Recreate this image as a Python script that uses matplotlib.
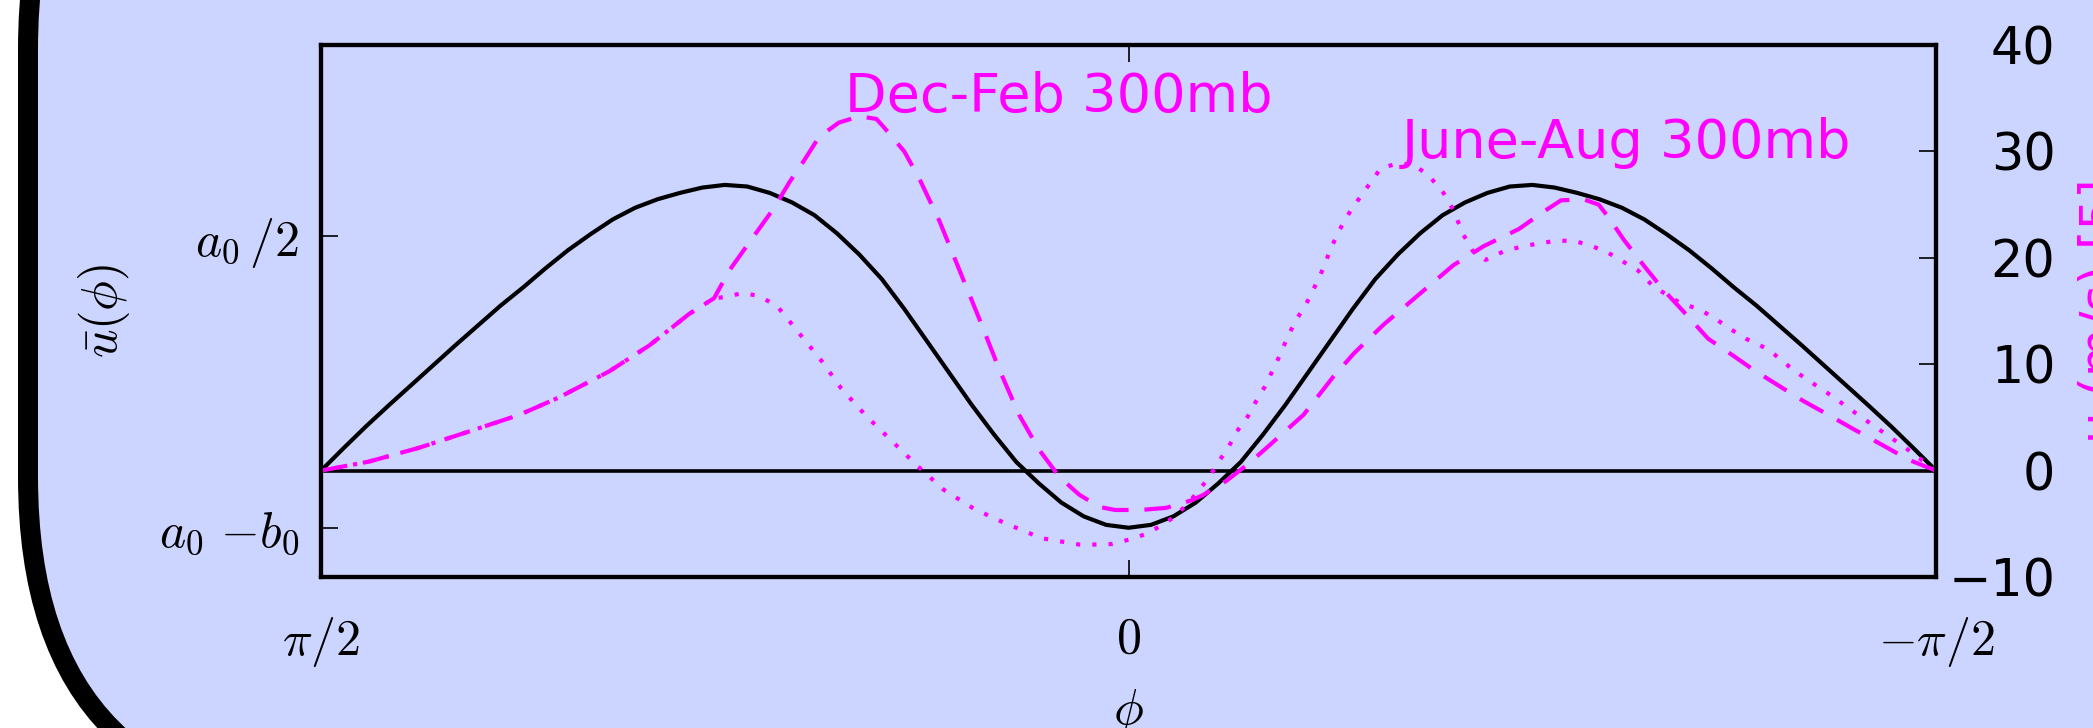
import matplotlib
matplotlib.use("Agg")
import matplotlib.pyplot as plt
from matplotlib.patches import FancyBboxPatch
from matplotlib.transforms import IdentityTransform
import numpy as np

plt.rcParams['mathtext.fontset'] = 'cm'

# model curve, northern half (symmetric about the equator), latitude in degrees
phi_half = [90, 87.5, 85, 82.5, 80, 77.5, 75, 72.5, 70, 67.5, 65, 62.5, 60, 57.5, 55,
            52.5, 50, 47.5, 45, 42.5, 40, 37.5, 35, 32.5, 30, 27.5, 25, 22.5, 20,
            17.5, 15, 12.5, 10, 7.5, 5, 2.5, 0]
u_half = [0.0, 2.1, 4.15, 6.1, 8.0, 9.9, 11.8, 13.65, 15.5, 17.2, 19.0, 20.7, 22.2, 23.6, 24.7,
          25.5, 26.1, 26.6, 26.85, 26.7, 26.1, 25.2, 24.0, 22.3, 20.3, 18.0, 15.2, 12.2, 9.2,
          6.2, 3.4, 0.8, -1.2, -3.0, -4.3, -5.1, -5.37]
phi_model = phi_half + [-p for p in phi_half[-2::-1]]
u_model = u_half + u_half[-2::-1]

# observed zonal wind at 300mb (m/s)
phi_djf = [90, 84.7, 79.1, 73.5, 67.9, 63.5, 57.9, 53.4, 49.0, 46.2, 44.5, 42.9, 41.2, 39.5,
           37.8, 36.2, 34.5, 32.3, 30.0, 28.1, 27.3, 25.0, 23.3, 21.1, 18.9, 16.7, 14.4, 12.2,
           10.0, 7.7, 5.5, 3.3, 1.5, -1.3, -4.2, -7.0, -8.3, -10.9, -13.4, -15.6, -19.5, -22.8,
           -25.1, -28.4, -32.3, -36.2, -39.6, -43.5, -46.2, -48.2, -50.7, -52.4, -53.5, -55.2,
           -57.4, -59.6, -61.8, -64.6, -67.4, -69.6, -73.0, -75.2, -78.0, -80.8, -83.6, -87.0, -90]
u_djf = [0.0, 0.84, 2.14, 3.68, 5.24, 6.87, 9.32, 11.77, 14.71, 16.2, 18.8, 20.7, 22.7, 24.7,
         27.1, 29.1, 31.35, 32.7, 33.3, 33.05, 32.3, 30.0, 27.4, 23.5, 18.95, 14.4, 9.5, 5.24,
         2.0, -0.6, -2.26, -3.4, -3.7, -3.7, -3.5, -2.8, -2.3, -0.96, 0.67, 2.3, 5.24, 8.8,
         11.0, 13.7, 16.5, 19.3, 21.1, 22.7, 24.3, 25.4, 25.5, 25.0, 23.8, 21.7,
         19.3, 17.0, 15.0, 12.4, 10.8, 9.5, 7.7, 6.55, 5.24, 3.9, 2.6, 1.0, 0.0]

phi_jja = [90, 84.7, 79.1, 73.5, 67.9, 63.5, 57.9, 53.4, 49.0, 46.2, 45.1, 42.9, 41.2, 39.2,
           36.7, 34.2, 32.0, 29.2, 26.4, 23.6, 20.6, 17.2, 13.6, 9.7, 5.5, 3.9, 1.9, 0.0, -1.8,
           -3.6, -5.0, -6.5, -7.8, -9.0, -10.0, -11.2, -12.0, -13.3, -14.2, -15.2, -16.0, -16.9,
           -17.7, -18.7, -19.7, -20.6, -21.7, -22.6, -23.7, -24.8, -25.9, -27.0, -28.1, -30.1,
           -31.8, -33.4, -35.1, -36.2, -37.3, -38.4, -39.8, -41.8, -44.0, -47.6, -49.6, -51.3,
           -53.2, -55.2, -56.8, -58.5, -61.6, -63.5, -65.2, -66.9, -68.8, -71.3, -73.6, -75.2,
           -76.9, -78.6, -80.2, -81.9, -83.6, -86.5, -90]
u_jja = [0.0, 0.84, 2.14, 3.68, 5.24, 6.87, 9.32, 11.77, 14.71, 16.2, 16.3, 16.7, 16.4, 15.5,
         12.9, 10.3, 7.7, 5.1, 2.8, 0.5, -1.8, -3.6, -5.0, -6.35, -6.95, -6.95, -6.9, -6.5, -6.0,
         -5.2, -4.4, -3.2, -1.9, -0.6, 0.77, 2.3, 3.6, 5.1, 6.5, 7.9, 9.3, 10.9,
         12.5, 14.2, 15.5, 17.0, 19.0, 21.0, 22.9, 24.5, 25.8, 27.1, 28.4, 28.9,
         28.7, 27.8, 26.1, 24.5, 22.2, 20.6, 19.8, 20.6, 21.1, 21.6, 21.6, 21.2,
         20.6, 19.6, 18.8, 17.3, 15.7, 15.2, 14.4, 13.4, 12.4, 11.4, 9.8, 8.8,
         7.85, 6.9, 5.9, 4.9, 3.9, 2.2, 0.0]

a0_half = 22.05
a0_minus_b0 = -5.37

fig = plt.figure(figsize=(20.93, 7.28), dpi=100, facecolor='white')

# rounded slide box behind the plot (pixel coords)
box = FancyBboxPatch((28, -85), 2400, 1100, boxstyle='round,pad=0,rounding_size=336',
                     transform=IdentityTransform(), facecolor='#ccd5ff',
                     edgecolor='black', linewidth=14.4, zorder=-10)
fig.patches.append(box)

ax = fig.add_axes([0.1534, 0.2074, 0.7716, 0.7308])
ax.patch.set_visible(False)
ax.plot(phi_model, u_model, color='black', lw=3.0)
ax.axhline(0, color='black', lw=2.6)
ax.set_xlim(90, -90)
ax.set_ylim(-10, 40)
ax.set_xticks([90, 0, -90])
ax.set_xticklabels([r'$\pi/2$', r'$0$', r'$-\pi/2$'])
ax.set_yticks([a0_half, a0_minus_b0])
ax.set_yticklabels([r'$a_0\,/2$', r'$a_0\ {-}b_0$'])
ax.tick_params(axis='both', direction='in', length=12, width=1.2, labelsize=36)
ax.tick_params(axis='x', top=True, pad=27)
ax.tick_params(axis='y', pad=16)
for s in ax.spines.values():
    s.set_linewidth(3.0)

ax.set_xlabel(r'$\phi$', fontsize=36)
ax.xaxis.set_label_coords(0.5, -0.207)
ax.set_ylabel(r'$\bar{u}(\phi)$', fontsize=36)
ax.yaxis.set_label_coords(-0.117, 0.5)

ax2 = ax.twinx()
ax2.plot(phi_djf, u_djf, color='magenta', lw=3.0, linestyle=(0, (6.4, 3.8)))
ax2.plot(phi_jja, u_jja, color='magenta', lw=3.0, linestyle=(0, (1.0, 2.9)))
ax2.set_ylim(-10, 40)
ax2.set_yticks([-10, 0, 10, 20, 30, 40])
ax2.tick_params(axis='y', direction='in', length=12, width=1.2, labelsize=36.5, pad=86)
for lbl in ax2.get_yticklabels():
    lbl.set_horizontalalignment('right')
for s in ax2.spines.values():
    s.set_linewidth(3.0)
ax2.set_ylabel('u (m/s) [5]', color='magenta', fontsize=36)
ax2.yaxis.set_label_coords(1.088, 0.5)

ax.text(0.3245, 0.874, 'Dec-Feb 300mb', transform=ax.transAxes, color='magenta',
        fontsize=39, va='baseline')
ax.text(0.6693, 0.7876, 'June-Aug 300mb', transform=ax.transAxes, color='magenta',
        fontsize=39, va='baseline')

fig.savefig('out.png', dpi=100, facecolor=fig.get_facecolor())
